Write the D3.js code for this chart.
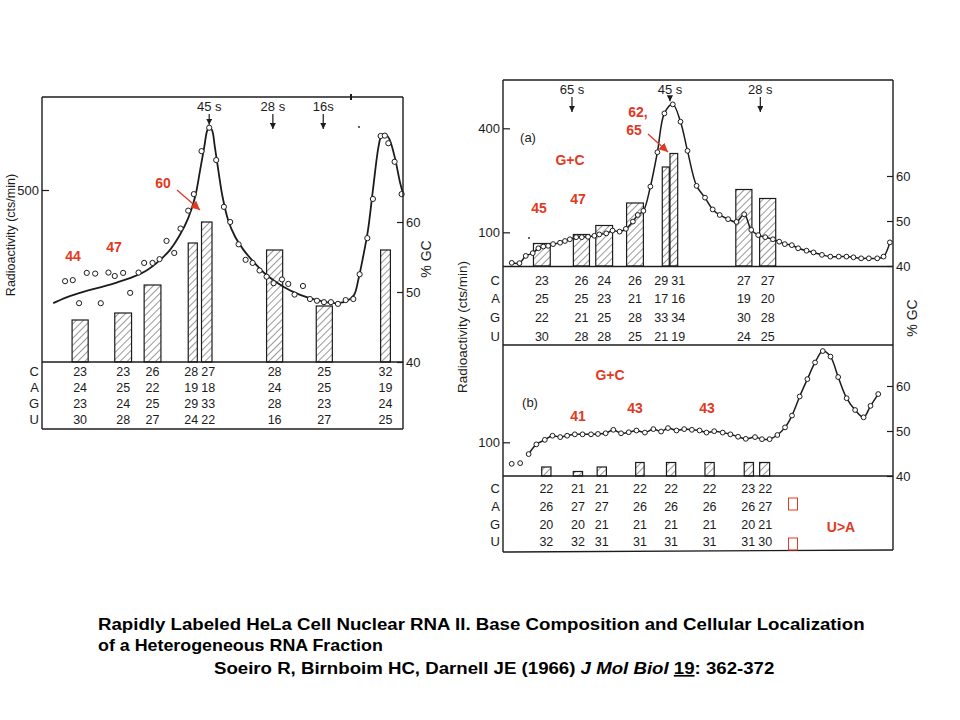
<!DOCTYPE html>
<html>
<head>
<meta charset="utf-8">
<script src="https://cdn.jsdelivr.net/npm/d3@7"></script>
<style>
  body { margin: 0; background: #fff; }
  .fig { font-family: "Liberation Sans", "DejaVu Sans", sans-serif; fill: #1c1c1c; }
  .red { font-family: "Liberation Sans", Arial, sans-serif; font-weight: bold; fill: #e03a24; font-size: 14px; }
  .cap { font-family: "Liberation Sans", Arial, sans-serif; font-weight: bold; fill: #000; font-size: 17px; }
</style>
</head>
<body>
<svg width="960" height="720"></svg>
<script>
// ---- left gradient (whole nuclear RNA) ----
const leftFrac = [1.0,2.1,3.0,4.1,5.3,6.1,7.2,8.1,9.3,10.3,11.5,12.3,13.5,14.5,15.5,16.6,17.5,18.6,19.4,20.5,21.6,22.6,23.7,24.6,25.8,26.8,27.8,28.8,29.8,30.8,32.0,32.9,33.8,35.0,36.0,37.0,38.0,39.0,40.0,41.1,42.2,43.1,44.2,45.0,46.1,46.7,47.2,48.1,49.1];
const leftCpm = [235,238,171,259,257,171,260,250,259,201,260,288,288,299,352,317,388,440,488,613,681,587,451,407,342,297,288,266,248,229,240,227,196,221,183,178,174,174,169,180,183,255,360,474,657,658,636,582,488];
const leftFitFrac = [-0.7,1.2,3.6,6.0,8.4,10.8,12.7,14.6,16.0,17.4,18.6,19.6,20.3,20.9,21.3,21.6,22.0,22.4,22.9,23.5,24.3,25.3,26.5,27.9,29.8,32.2,34.6,37.0,39.3,41.2,42.3,42.9,43.6,44.3,45.0,45.8,46.2,46.7,47.3,48.1,48.9,49.3];
const leftFitCpm = [171,188,204,217,231,248,267,297,326,369,418,481,558,626,672,682,674,626,558,481,413,364,326,292,253,219,195,180,171,177,195,238,306,384,500,626,657,663,650,597,520,490];
const leftBars = [[2.0,4.3],[8.1,10.5],[12.3,14.7],[18.6,19.9],[20.5,22.0],[29.8,32.1],[36.9,39.2],[46.1,47.5]];
const leftC = [23,23,26,28,27,28,25,32];
const leftA = [24,25,22,19,18,24,25,19];
const leftG = [23,24,25,29,33,28,23,24];
const leftU = [30,28,27,24,22,16,27,25];
const leftMarkers = ["45 s","28 s","16s"];
const leftMarkerFrac = [21.6,30.7,37.9];

// ---- panel (a) ----
const aFrac = [1.0,2.1,3.0,4.0,4.8,5.5,6.2,6.9,7.9,8.6,9.3,10.2,11.0,11.9,12.8,13.5,14.5,15.4,16.4,17.3,18.3,19.0,19.8,20.8,21.8,22.8,24.0,25.1,26.1,27.4,28.6,29.7,30.7,31.9,33.1,34.2,35.2,36.2,37.2,38.3,39.2,40.0,41.0,41.9,43.1,44.1,45.3,46.5,47.7,48.8,49.8,50.9,52.0,53.2,54.1,55.0];
const aCpm = [12,11,32,40,54,59,61,66,70,75,80,86,86,87,90,94,97,105,102,110,131,150,162,232,331,443,469,419,335,234,200,166,150,138,130,152,107,92,86,80,73,66,63,54,47,42,35,30,30,30,28,25,25,25,30,71];
const aBars = [[4.1,6.5],[9.8,12.1],[13.0,15.4],[17.4,19.8],[22.5,23.5],[23.6,24.7],[33.0,35.3],[36.4,38.7]];
const aC = [23,26,24,26,29,31,27,27];
const aA = [25,25,23,21,17,16,19,20];
const aG = [22,21,25,28,33,34,30,28];
const aU = [30,28,28,25,21,19,24,25];
const aMarkers = ["65 s","45 s","28 s"];
const aMarkerFrac = [9.6,23.6,36.5];

// ---- panel (b) ----
const bFrac = [1.0,2.1,3.2,4.2,5.3,6.3,7.3,8.2,9.2,10.2,11.3,12.2,13.2,14.2,15.2,16.2,17.2,18.3,19.4,20.4,21.3,22.4,23.4,24.4,25.4,26.3,27.3,28.4,29.4,30.4,31.4,32.6,33.5,34.5,35.5,36.5,37.4,38.4,39.4,40.4,41.4,42.4,43.4,44.5,45.6,46.7,47.6,48.6];
const bCpm = [38,40,66,94,107,119,115,119,123,123,123,124,126,136,126,129,134,128,138,131,141,134,138,136,134,128,132,128,123,116,110,115,109,109,121,143,177,232,282,330,363,347,288,227,193,172,205,239];
const bBars = [[4.9,6.1],[9.0,10.2],[12.1,13.3],[17.1,18.2],[21.1,22.3],[26.1,27.3],[31.2,32.4],[33.2,34.5]];
const bC = [22,21,21,22,22,22,23,22];
const bA = [26,27,27,26,26,26,26,27];
const bG = [20,20,21,21,21,21,20,21];
const bU = [32,32,31,31,31,31,31,30];

const bases = ["C","A","G","U"];

const ink = "#1c1c1c";
const svg = d3.select("svg");
const defs = svg.append("defs");

const pat = defs.append("pattern").attr("id", "hatch")
  .attr("patternUnits", "userSpaceOnUse").attr("width", 5).attr("height", 5)
  .attr("patternTransform", "rotate(45)");
pat.append("rect").attr("width", 5).attr("height", 5).attr("fill", "#fff");
pat.append("line").attr("x1", 0).attr("y1", 0).attr("x2", 0).attr("y2", 5)
  .attr("stroke", "#333").attr("stroke-width", 1);

function arrowHead(id, color, size) {
  defs.append("marker").attr("id", id).attr("viewBox", "0 0 10 10")
    .attr("refX", 10).attr("refY", 5).attr("markerUnits", "userSpaceOnUse")
    .attr("markerWidth", size).attr("markerHeight", size).attr("orient", "auto")
    .append("path").attr("d", "M0,0L10,5L0,10z").attr("fill", color);
}
arrowHead("redhead", "#e03a24", 9);
arrowHead("blackhead", ink, 6);

function line(x1, y1, x2, y2, w) {
  svg.append("line").attr("x1", x1).attr("y1", y1).attr("x2", x2).attr("y2", y2)
    .attr("stroke", ink).attr("stroke-width", w || 1.4);
}

// draws bars, curve, circles, markers and the composition table of one panel
function panel(o) {
  const g = svg.append("g");
  // bars: G+C content
  const gc = o.C.map((c, i) => c + o.G[i]);
  g.selectAll("rect.bar").data(o.bars).join("rect").attr("class", "bar")
    .attr("x", d => o.x(d[0])).attr("width", d => o.x(d[1]) - o.x(d[0]))
    .attr("y", (d, i) => o.gc(gc[i])).attr("height", (d, i) => o.gc(40) - o.gc(gc[i]))
    .attr("fill", "url(#hatch)").attr("stroke", ink).attr("stroke-width", 1.2);

  // curve
  const cf = o.curveFrac, cv = o.curveCpm;
  const pts = cf.map((f, i) => [o.x(f), o.y(cv[i])]);
  g.append("path").attr("d", d3.line().curve(d3.curveCatmullRom.alpha(0.5))(pts))
    .attr("fill", "none").attr("stroke", ink).attr("stroke-width", o.lw);

  // points
  g.selectAll("circle").data(o.frac).join("circle")
    .attr("cx", d => o.x(d)).attr("cy", (d, i) => o.y(o.cpm[i])).attr("r", o.r)
    .attr("fill", "#fff").attr("stroke", ink).attr("stroke-width", 1);

  // sedimentation markers
  if (o.markers) {
    o.markers.forEach((m, i) => {
      const mx = o.x(o.markerFrac[i]);
      g.append("text").attr("class", "fig").attr("x", mx).attr("y", o.markerY)
        .attr("text-anchor", "middle").attr("font-size", 13).text(m);
      // stop the arrow just above the curve
      let near = d3.least(o.frac.map((f, k) => [Math.abs(f - o.markerFrac[i]), o.y(o.cpm[k])]), d => d[0]);
      const end = Math.min(o.markerY + 18, near[1] - 3);
      g.append("line").attr("x1", mx).attr("x2", mx)
        .attr("y1", o.markerY + 3).attr("y2", end)
        .attr("stroke", ink).attr("stroke-width", 1.2).attr("marker-end", "url(#blackhead)");
    });
  }

  // table
  let cx = o.bars.map(d => o.x((d[0] + d[1]) / 2));
  for (let i = 1; i < cx.length; i++) {
    const gap = cx[i] - cx[i - 1];
    if (gap < 17) { cx[i - 1] -= (17 - gap) / 2; cx[i] += (17 - gap) / 2; }
  }
  [o.C, o.A, o.G, o.U].forEach((vals, r) => {
    const ty = o.rows[r] + 4.5;
    g.append("text").attr("class", "fig").attr("x", o.x.range()[0] - 3).attr("y", ty)
      .attr("text-anchor", "end").attr("font-size", 13).text(bases[r]);
    g.selectAll(null).data(vals).join("text").attr("class", "fig")
      .attr("x", (d, i) => cx[i]).attr("y", ty).attr("text-anchor", "middle")
      .attr("font-size", 12.5).text(d => d);
  });

  // axes
  const ya = g.append("g").attr("transform", `translate(${o.x.range()[0]},0)`)
    .call(d3.axisLeft(o.y).tickValues(o.yTicks).tickSizeInner(-7).tickSizeOuter(0).tickPadding(3));
  const ga = g.append("g").attr("transform", `translate(${o.x.range()[1]},0)`)
    .call(d3.axisRight(o.gc).tickValues([40, 50, 60]).tickSizeInner(-6).tickSizeOuter(0).tickPadding(3).tickFormat(d3.format("d")));
  [ya, ga].forEach(a => {
    a.select(".domain").remove();
    a.selectAll("line").attr("stroke", ink).attr("stroke-width", 1.2);
    a.selectAll("text").attr("class", "fig").attr("font-size", 13)
      .attr("font-family", null).attr("fill", ink);
  });
  return g;
}

// ---- left panel ----
const xL = d3.scaleLinear().domain([-2.3, 49.3]).range([42, 403]);
const yL = d3.scaleLinear().domain([0, 500]).range([362, 190]);
const gL = d3.scaleLinear().domain([40, 60]).range([362, 222]);
panel({
  x: xL, y: yL, gc: gL, frac: leftFrac, cpm: leftCpm,
  curveFrac: leftFitFrac, curveCpm: leftFitCpm, bars: leftBars,
  C: leftC, A: leftA, G: leftG, U: leftU, rows: [371, 387, 403, 419],
  markers: leftMarkers, markerFrac: leftMarkerFrac, markerY: 111,
  yTicks: [500], r: 2.6, lw: 1.8
});
line(42, 97, 403, 97); line(42, 97, 42, 429); line(403, 97, 403, 429);
line(42, 362, 403, 362); line(42, 429, 403, 429);
line(351, 94, 351, 100, 2);
svg.append("circle").attr("cx", 359).attr("cy", 127).attr("r", 0.9).attr("fill", ink);

// ---- right panel (a) ----
const xA = d3.scaleLinear().domain([-0.25, 55.45]).range([503, 893]);
const yA = d3.scaleLinear().domain([0, 400]).range([267, 128.3]);
const gA = d3.scaleLinear().domain([40, 60]).range([266, 176]);
panel({
  x: xA, y: yA, gc: gA, frac: aFrac, cpm: aCpm,
  curveFrac: aFrac, curveCpm: aCpm, bars: aBars,
  C: aC, A: aA, G: aG, U: aU, rows: [280, 298, 317, 336],
  markers: aMarkers, markerFrac: aMarkerFrac, markerY: 94,
  yTicks: [100, 400], r: 2.4, lw: 1.5
});

// ---- right panel (b) ----
const xB = d3.scaleLinear().domain([-0.13, 50.52]).range([503, 893]);
const yB = d3.scaleLinear().domain([0, 100]).range([477, 442.3]);
const gB = d3.scaleLinear().domain([40, 60]).range([476, 386]);
panel({
  x: xB, y: yB, gc: gB, frac: bFrac, cpm: bCpm,
  curveFrac: bFrac.slice(2), curveCpm: bCpm.slice(2), bars: bBars,
  C: bC, A: bA, G: bG, U: bU, rows: [488, 506, 524, 541],
  yTicks: [100], r: 2.4, lw: 1.5
});

line(503, 80, 893, 80); line(503, 80, 503, 552); line(893, 80, 893, 550);
line(503, 266.5, 893, 266.5); line(503, 345, 893, 345);
line(503, 476, 893, 476); line(503, 552, 893, 550);
svg.append("circle").attr("cx", 529).attr("cy", 238).attr("r", 0.9).attr("fill", ink);

svg.append("text").attr("class", "fig").attr("x", 528).attr("y", 142).attr("text-anchor", "middle").attr("font-size", 13).text("(a)");
svg.append("text").attr("class", "fig").attr("x", 530).attr("y", 407).attr("text-anchor", "middle").attr("font-size", 13).text("(b)");

// axis titles
function vtext(x, y, t, size) {
  svg.append("text").attr("class", "fig").attr("transform", `translate(${x},${y}) rotate(-90)`)
    .attr("text-anchor", "middle").attr("font-size", size).text(t);
}
vtext(15, 235, "Radioactivity (cts/min)", 12.5);
vtext(467, 327, "Radioactivity  (cts/min)", 13.5);
vtext(431, 259, "% GC", 14);
vtext(917, 318, "% GC", 14);

// ---- red annotations ----
function red(x, y, t) {
  svg.append("text").attr("class", "red").attr("x", x).attr("y", y).attr("text-anchor", "middle").text(t);
}
function redArrow(x1, y1, x2, y2) {
  svg.append("line").attr("x1", x1).attr("y1", y1).attr("x2", x2).attr("y2", y2)
    .attr("stroke", "#e03a24").attr("stroke-width", 1.3).attr("marker-end", "url(#redhead)");
}
red(163, 188, "60"); redArrow(177, 190, 200, 210);
red(73, 261, "44"); red(114, 252, "47");
red(638, 117, "62,"); red(634, 135, "65"); redArrow(648, 134, 668, 152);
red(570, 165, "G+C"); red(539, 213, "45"); red(578, 204, "47");
red(610, 380, "G+C"); red(578, 421, "41"); red(635, 413, "43"); red(707, 413, "43");
red(841, 532, "U>A");
[504, 544].forEach(cy => {
  svg.append("rect").attr("x", 788.5).attr("y", cy - 6).attr("width", 9).attr("height", 12)
    .attr("fill", "none").attr("stroke", "#e03a24").attr("stroke-width", 1);
});

// ---- citation ----
function fitText(t, x0, w) {
  const bw = t.node().getComputedTextLength();
  t.attr("transform", `translate(${x0},0) scale(${w / bw},1) translate(${-x0},0)`);
}
const c1 = svg.append("text").attr("class", "cap").attr("x", 98).attr("y", 630)
  .text("Rapidly Labeled HeLa Cell Nuclear RNA II.  Base Composition and Cellular Localization");
fitText(c1, 98, 767);
const c2 = svg.append("text").attr("class", "cap").attr("x", 98).attr("y", 651)
  .text("of a Heterogeneous RNA Fraction");
fitText(c2, 98, 285);
const c3 = svg.append("text").attr("class", "cap").attr("x", 214).attr("y", 674);
c3.append("tspan").text("Soeiro R, Birnboim HC, Darnell JE (1966) ");
c3.append("tspan").attr("font-style", "italic").text("J Mol Biol");
c3.append("tspan").text(" ");
c3.append("tspan").attr("text-decoration", "underline").text("19");
c3.append("tspan").text(": 362-372");
fitText(c3, 214, 561);
</script>
</body>
</html>
